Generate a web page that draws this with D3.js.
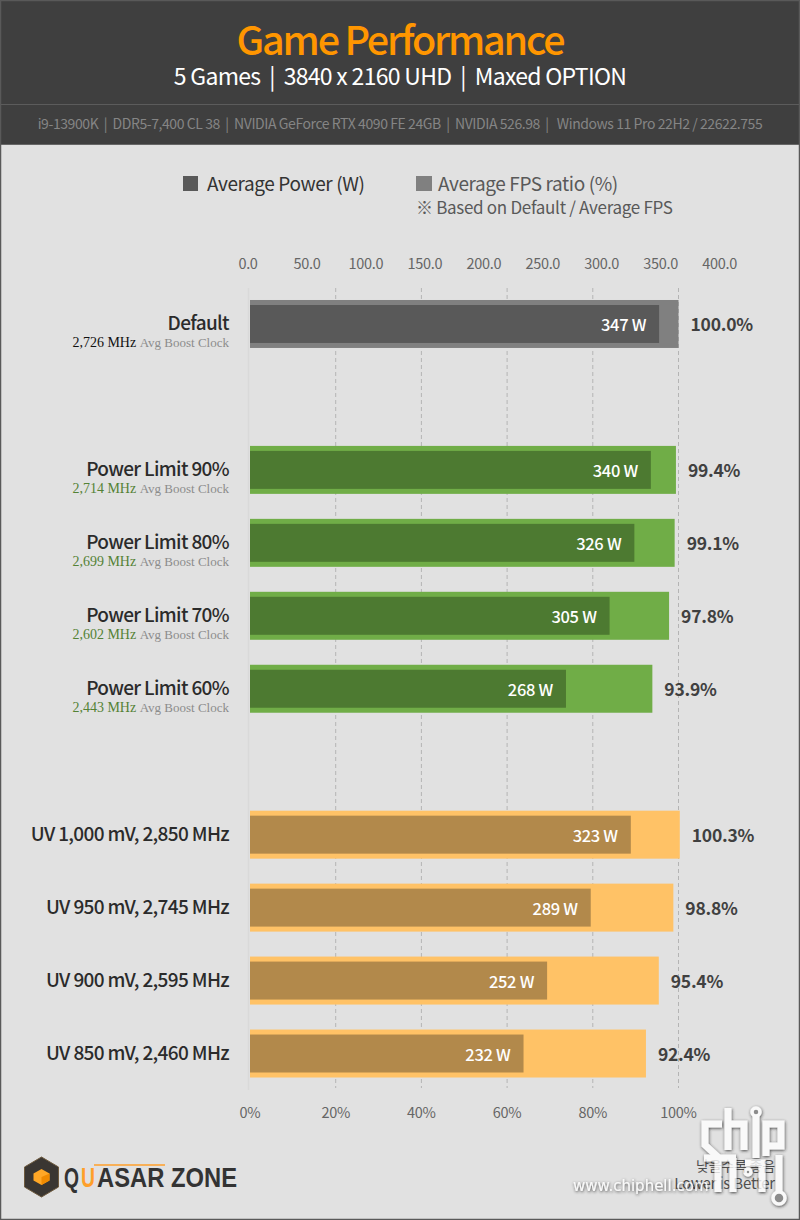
<!DOCTYPE html>
<html>
<head>
<meta charset="utf-8">
<script src="https://cdn.jsdelivr.net/npm/d3@7"></script>
<style>
  html, body { margin: 0; padding: 0; background: #e1e1e1; }
  svg { display: block; font-family: "Noto Sans CJK KR", "Noto Sans", sans-serif; }
</style>
</head>
<body>
<div id="chart"></div>
<script>
// values
const categories = ['Default', 'Power Limit 90%', 'Power Limit 80%', 'Power Limit 70%', 'Power Limit 60%',
  'UV 1,000 mV, 2,850 MHz', 'UV 950 mV, 2,745 MHz', 'UV 900 mV, 2,595 MHz', 'UV 850 mV, 2,460 MHz']
const groups = ['default', 'limit', 'limit', 'limit', 'limit', 'uv', 'uv', 'uv', 'uv']
const clocks = ['2,726 MHz', '2,714 MHz', '2,699 MHz', '2,602 MHz', '2,443 MHz', '', '', '', '']
const powerValues = [347, 340, 326, 305, 268, 323, 289, 252, 232]
const fpsValues = [100.0, 99.4, 99.1, 97.8, 93.9, 100.3, 98.8, 95.4, 92.4]
const powerTicks = [0, 50, 100, 150, 200, 250, 300, 350, 400]
const percentTicks = [0, 20, 40, 60, 80, 100]

const colors = {
  default: { fps: '#808080', power: '#595959', clock: '#111111' },
  limit: { fps: '#70ad47', power: '#4d7a31', clock: '#548235' },
  uv: { fps: '#ffc266', power: '#b2894b', clock: '#111111' }
}

const width = 800, height = 1220

const svg = d3.select('#chart').append('svg')
  .attr('width', width)
  .attr('height', height)

// page background and header
svg.append('rect').attr('width', width).attr('height', height).attr('fill', '#e1e1e1')
svg.append('rect').attr('width', width).attr('height', 145).attr('fill', '#3f3f3f')
svg.append('rect').attr('y', 104).attr('width', width).attr('height', 1).attr('fill', '#5c5c5c')
svg.append('rect').attr('y', 144).attr('width', width).attr('height', 1).attr('fill', '#666666')
svg.append('rect').attr('x', 0.5).attr('y', 0.5).attr('width', width - 1).attr('height', height - 1)
  .attr('fill', 'none').attr('stroke', '#595959').attr('stroke-width', 1.5)

function label(x, y, text, size, fill, anchor, spacing, weight) {
  return svg.append('text')
    .attr('x', x).attr('y', y)
    .attr('font-size', size)
    .attr('fill', fill)
    .attr('text-anchor', anchor || 'start')
    .attr('letter-spacing', spacing || 0)
    .attr('font-weight', weight || 400)
    .text(text)
}

label(400, 55, 'Game Performance', 39.5, '#ff9600', 'middle', -2.2, 500)
label(400, 85, '5 Games  |  3840 x 2160 UHD  |  Maxed OPTION', 23, '#ffffff', 'middle', -0.7).attr('xml:space', 'preserve')
label(400, 129, 'i9-13900K  |  DDR5-7,400 CL 38  |  NVIDIA GeForce RTX 4090 FE 24GB  |  NVIDIA 526.98  |   Windows 11 Pro 22H2 / 22622.755', 14, '#858585', 'middle', -0.42).attr('xml:space', 'preserve')

// legend
svg.append('rect').attr('x', 183).attr('y', 176).attr('width', 15).attr('height', 15).attr('fill', colors.default.power)
label(207, 191, 'Average Power (W)', 19, '#333333', 'start', -0.4)
svg.append('rect').attr('x', 416).attr('y', 176).attr('width', 16).attr('height', 15).attr('fill', colors.default.fps)
label(438, 191, 'Average FPS ratio (%)', 19, '#595959', 'start', -0.4)
label(416, 214, '※ Based on Default / Average FPS', 17, '#595959', 'start', -0.3)

// scales
const slots = d3.range(11)
const rowSlot = d3.scaleOrdinal().domain(['default', 'limit', 'uv']).range([0, 2, 7])
const rows = categories.map((name, i) => ({
  name,
  group: groups[i],
  clock: clocks[i],
  power: powerValues[i],
  fps: fpsValues[i],
  slot: rowSlot(groups[i]) + groups.slice(0, i).filter(g => g === groups[i]).length
}))

const y = d3.scaleBand().domain(slots).range([287.5, 1090]).paddingInner(25 / 73).paddingOuter(12.5 / 73)
const xPower = d3.scaleLinear().domain([0, 400]).range([250, 721.6])
const xPercent = d3.scaleLinear().domain([0, 100]).range([250, 678.5])

// axes
const axisTop = d3.axisTop(xPower).tickValues(powerTicks).tickFormat(d3.format('.1f')).tickSize(0)
const topG = svg.append('g').attr('transform', 'translate(-2.5,272)').call(axisTop)
const axisBottom = d3.axisBottom(xPercent).tickValues(percentTicks).tickFormat(d => d + '%').tickSize(0)
const bottomG = svg.append('g').attr('transform', 'translate(-0.5,1105)').call(axisBottom)
for (const g of [topG, bottomG]) {
  g.select('.domain').remove()
  g.selectAll('text')
    .attr('font-family', '"Noto Sans CJK KR", "Noto Sans", sans-serif')
    .attr('font-size', 14.5)
    .attr('letter-spacing', -0.3)
    .attr('fill', '#666666')
}

// gridlines
svg.append('g').selectAll('line')
  .data(percentTicks.slice(1))
  .join('line')
  .attr('x1', d => xPercent(d)).attr('x2', d => xPercent(d))
  .attr('y1', 288).attr('y2', 1088)
  .attr('stroke', '#b4b4b4')
  .attr('stroke-dasharray', '4,3')
svg.append('line')
  .attr('x1', 248.5).attr('x2', 248.5).attr('y1', 288).attr('y2', 1090)
  .attr('stroke', '#d9d9d9').attr('stroke-width', 1.5)

// bars
const barG = svg.append('g').selectAll('g')
  .data(rows)
  .join('g')
  .attr('transform', d => 'translate(0,' + y(d.slot) + ')')

const inset = 5
barG.append('rect')
  .attr('x', xPercent(0))
  .attr('width', d => xPercent(d.fps) - xPercent(0))
  .attr('height', y.bandwidth())
  .attr('fill', d => colors[d.group].fps)
barG.append('rect')
  .attr('x', xPower(0))
  .attr('y', inset)
  .attr('width', d => xPower(d.power) - xPower(0))
  .attr('height', y.bandwidth() - inset * 2)
  .attr('fill', d => colors[d.group].power)

const mid = y.bandwidth() / 2
barG.append('text')
  .attr('x', d => xPower(d.power) - 13)
  .attr('y', mid + 7)
  .attr('text-anchor', 'end')
  .attr('font-size', 16.5)
  .attr('font-weight', 500)
  .attr('letter-spacing', -0.3)
  .attr('fill', '#ffffff')
  .text(d => d.power + ' W')
barG.append('text')
  .attr('x', d => xPercent(d.fps) + 12)
  .attr('y', mid + 7.5)
  .attr('font-size', 17.5)
  .attr('font-weight', 700)
  .attr('letter-spacing', -0.25)
  .attr('fill', '#404040')
  .text(d => d.fps.toFixed(1) + '%')

// category labels
barG.append('text')
  .attr('x', 229)
  .attr('y', d => d.clock ? mid + 6 : mid + 6.5)
  .attr('text-anchor', 'end')
  .attr('font-size', 19)
  .attr('font-weight', 500)
  .attr('letter-spacing', -0.65)
  .attr('fill', '#2b2b2b')
  .text(d => d.name)

const clockText = barG.filter(d => d.clock).append('text')
  .attr('x', 229)
  .attr('y', mid + 23)
  .attr('text-anchor', 'end')
  .attr('font-family', '"Liberation Serif", serif')
  .attr('font-size', 14)
clockText.append('tspan')
  .attr('fill', d => colors[d.group].clock)
  .text(d => d.clock + ' ')
clockText.append('tspan')
  .attr('fill', '#8c8c8c')
  .attr('font-size', 13)
  .text('Avg Boost Clock')

// footnote under the watermark
label(775, 1171, '낮을수록 좋음', 14, '#4f4f4f', 'end', -0.2)
label(775, 1189, 'Lower is Better', 15, '#4f4f4f', 'end', -0.2)

// quasar zone logo
const logo = svg.append('g').attr('transform', 'translate(41.5,1177)')
logo.append('path').attr('d', 'M0,-20 L17,-10 L17,10 L0,20 L-17,10 L-17,-10 Z').attr('fill', '#3a3632')
logo.append('path').attr('d', 'M0,-20 L17,-10 L17,10 L0,20 L-17,10 L-17,-10 Z').attr('fill', 'none').attr('stroke', '#6e5a3e').attr('stroke-width', 1)
logo.append('path').attr('d', 'M0,-8 L8,-3.5 L8,3.5 L0,8 L-8,3.5 L-8,-3.5 Z').attr('fill', '#ffa726')
logo.append('path').attr('d', 'M0,0 L8,-3.5 L8,3.5 L0,8 Z').attr('fill', '#f08a00')
const logoFont = '"Liberation Sans Narrow", "Liberation Sans", sans-serif'
label(64, 1187, 'Q', 27.5, '#333333', 'start', 0, 700).attr('font-family', logoFont).attr('textLength', 15).attr('lengthAdjust', 'spacingAndGlyphs')
label(81, 1187, 'U', 27.5, '#ff9f2a', 'start', 0, 700).attr('font-family', logoFont).attr('textLength', 14).attr('lengthAdjust', 'spacingAndGlyphs')
label(97, 1187, 'ASAR ZONE', 27.5, '#333333', 'start', 0, 700).attr('font-family', logoFont).attr('textLength', 140).attr('lengthAdjust', 'spacingAndGlyphs')
svg.append('path').attr('d', 'M94,1165 H165').attr('stroke', '#ff9f2a').attr('stroke-width', 1.4).attr('fill', 'none')

// chiphell watermark, the footnote shows through it
const defs = svg.append('defs')
const shadow = defs.append('filter').attr('id', 'wm').attr('x', '-20%').attr('y', '-20%').attr('width', '140%').attr('height', '140%')
shadow.append('feDropShadow').attr('dx', 0.5).attr('dy', 1).attr('stdDeviation', 1.7).attr('flood-color', '#222222').attr('flood-opacity', 1)

const mark = svg.append('g').attr('filter', 'url(#wm)').attr('opacity', 0.8)
const markLines = [
  'M722,1124 H705 V1145 L719,1158',
  'M728,1108 V1150 M728,1124 H744 V1150',
  'M756,1116 V1158',
  'M766,1156 V1124 H781 V1146 H766',
  'M704,1158 H736',
  'M718,1158 V1192 M733,1158 V1192',
  'M745,1163 H762 V1192',
  'M779,1155 V1192'
]
mark.selectAll('path').data(markLines).join('path')
  .attr('d', d => d)
  .attr('fill', 'none').attr('stroke', '#ffffff').attr('stroke-width', 7)
const markDots = [[756, 1112, 4], [779, 1198, 6], [748, 1172, 3]]
mark.selectAll('circle').data(markDots).join('circle')
  .attr('cx', d => d[0]).attr('cy', d => d[1]).attr('r', d => d[2])
  .attr('fill', '#777777').attr('stroke', '#ffffff').attr('stroke-width', 3.5)
mark.append('text')
  .attr('x', 573).attr('y', 1191)
  .attr('font-family', '"DejaVu Sans", sans-serif')
  .attr('font-size', 15)
  .attr('fill', '#ffffff')
  .text('www.chiphell.com')
</script>
</body>
</html>
